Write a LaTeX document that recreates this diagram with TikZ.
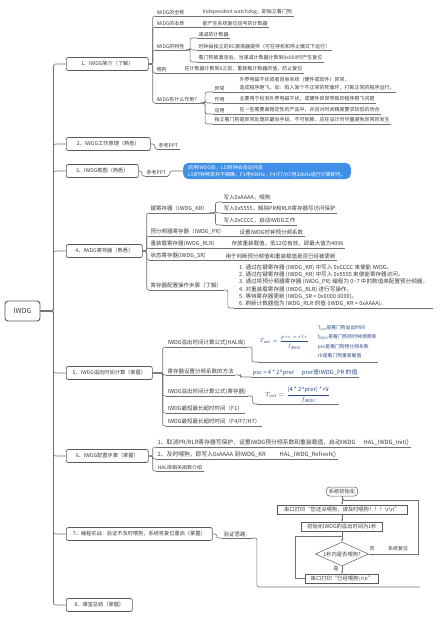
\documentclass[tikz,border=0pt]{standalone}
\usepackage{amsmath}
\usepackage{fontspec}
\setmainfont{Noto Sans CJK SC}
\usetikzlibrary{arrows.meta,shapes.geometric}
\definecolor{linegray}{HTML}{707070}
\definecolor{txtgray}{HTML}{3C3C3C}
\definecolor{boxedge}{HTML}{5A5A5A}
\definecolor{calloutblue}{HTML}{4090EA}
\definecolor{mathblue}{HTML}{2B4A86}

\begin{document}
\begin{tikzpicture}[
    x=1pt, y=-1pt,
    root/.style={draw=boxedge, line width=0.9pt, rounded corners=3pt, fill=white,
      minimum width=35, minimum height=20, font=\fontsize{7}{8}\selectfont, text=txtgray},
    sec/.style={draw=boxedge, line width=0.7pt, rounded corners=2pt, fill=white, anchor=west,
      minimum height=13, inner xsep=4pt, inner ysep=1pt, font=\fontsize{5.2}{6}\selectfont, text=txtgray},
    leaf/.style={anchor=south west, inner xsep=1.5pt, inner ysep=1.3pt, text=txtgray,
      font=\fontsize{5}{6}\selectfont,
      append after command={(\tikzlastnode.south west) edge[uline] (\tikzlastnode.south east)}},
    leafm/.style={leaf, font=\fontsize{5.5}{6.5}\selectfont},
    leafb/.style={leaf, font=\fontsize{5.8}{7}\selectfont},
    uline/.style={draw=linegray, line width=0.5pt},
    conn/.style={draw=linegray, line width=0.6pt, rounded corners=2pt},
    callout/.style={fill=calloutblue, rounded corners=5pt, text=white, anchor=west, align=left,
      inner xsep=5pt, inner ysep=2pt, font=\fontsize{5}{7}\selectfont},
    fbox/.style={draw=boxedge, fill=white, line width=0.5pt, minimum height=9, inner xsep=2pt,
      inner ysep=0.5pt, font=\fontsize{5.3}{6}\selectfont, text=txtgray},
    fdec/.style={fbox, diamond, aspect=2.2, inner sep=0pt, minimum width=53, minimum height=24},
    flbl/.style={font=\fontsize{5}{6}\selectfont, text=txtgray, inner sep=0.5pt},
    farr/.style={-{Stealth[length=2.5pt]}, linegray, line width=0.5pt},
  ]
  \useasboundingbox (0,0) rectangle (440,620);

  % Root and sections
  \node[root] (root) at (22.5,311) {IWDG};
  \node[sec, minimum width=82] (s1) at (66,64) {1、IWDG简介（了解）};
  \node[sec, minimum width=84] (s2) at (66,144) {2、IWDG工作原理（熟悉）};
  \node[sec, minimum width=72] (s3) at (66,171) {3、IWDG框图（熟悉）};
  \node[sec, minimum width=76] (s4) at (66,251) {4、IWDG寄存器（熟悉）};
  \node[sec, minimum width=86] (s5) at (66,373) {5、IWDG溢出时间计算（掌握）};
  \node[sec, minimum width=82] (s6) at (66,456) {6、IWDG配置步骤（掌握）};
  \node[sec, minimum width=146] (s7) at (66,534) {7、编程实战：验证不及时喂狗，系统将复位重启（掌握）};
  \node[sec, minimum width=66] (s8) at (66,605) {8、课堂总结（掌握）};
  \draw[conn] (root.east) -- ++(13,0) |- (s1.west);
  \draw[conn] (root.east) -- ++(13,0) |- (s2.west);
  \draw[conn] (root.east) -- ++(13,0) |- (s3.west);
  \draw[conn] (root.east) -- ++(13,0) |- (s4.west);
  \draw[conn] (root.east) -- ++(13,0) |- (s5.west);
  \draw[conn] (root.east) -- ++(13,0) |- (s6.west);
  \draw[conn] (root.east) -- ++(13,0) |- (s7.west);
  \draw[conn] (root.east) -- ++(13,0) |- (s8.west);

  % 1. Intro
  \node[leaf] (n11) at (155,16) {IWDG的全称};
  \node[leaf] (n11a) at (201,16) {Independent watchdog，即独立看门狗};
  \node[leaf] (n12) at (155,27) {IWDG的本质};
  \node[leaf] (n12a) at (201,27) {能产生系统复位信号的计数器};
  \node[leaf] (n13) at (155,50) {IWDG的特性};
  \node[leaf] (n13a) at (197,38) {递减的计数器};
  \node[leaf] (n13b) at (197,50) {时钟由独立的RC振荡器提供（可在待机和停止模式下运行）};
  \node[leaf] (n13c) at (197,62) {看门狗被激活后，当递减计数器计数到0x000时产生复位};
  \node[leaf] (n14) at (155,73) {喂狗};
  \node[leaf] (n14a) at (183,73) {在计数器计数到0之前，重装载计数器的值，防止复位};
  \node[leaf] (n15) at (155,103) {IWDG有什么作用？};
  \node[leaf] (n15a) at (213,92) {异常};
  \node[leaf, align=left, font=\fontsize{5}{8}\selectfont] (n15a1) at (238,92)
    {外界电磁干扰或者自身系统（硬件或软件）异常，\\造成程序跑飞，如：陷入某个不正常的死循环，打断正常的程序运行。};
  \node[leaf] (n15b) at (213,103) {作用};
  \node[leaf] (n15b1) at (238,103) {主要用于检测外界电磁干扰，或硬件异常导致的程序跑飞问题};
  \node[leaf] (n15c) at (213,114) {应用};
  \node[leaf] (n15c1) at (238,114) {在一些需要高稳定性的产品中，并且对时间精度要求较低的场合};
  \node[leaf] (n15d) at (213,124) {独立看门狗是异常处理的最后手段，不可依赖，应在设计时尽量避免异常的发生};
  \draw[conn] (s1.east) -- ++(4,0) |- (n11.south west);
  \draw[conn] (s1.east) -- ++(4,0) |- (n12.south west);
  \draw[conn] (s1.east) -- ++(4,0) |- (n13.south west);
  \draw[conn] (s1.east) -- ++(4,0) |- (n14.south west);
  \draw[conn] (s1.east) -- ++(4,0) |- (n15.south west);
  \draw[conn] (n11.south east) -- (n11a.south west);
  \draw[conn] (n12.south east) -- (n12a.south west);
  \draw[conn] (n13.south east) -- ++(4,0) |- (n13a.south west);
  \draw[conn] (n13.south east) -- ++(4,0) |- (n13b.south west);
  \draw[conn] (n13.south east) -- ++(4,0) |- (n13c.south west);
  \draw[conn] (n14.south east) -- (n14a.south west);
  \draw[conn] (n15.south east) -- ++(4,0) |- (n15a.south west);
  \draw[conn] (n15.south east) -- ++(4,0) |- (n15b.south west);
  \draw[conn] (n15.south east) -- ++(4,0) |- (n15c.south west);
  \draw[conn] (n15.south east) -- ++(4,0) |- (n15d.south west);
  \draw[conn] (n15a.south east) -- (n15a1.south west);
  \draw[conn] (n15b.south east) -- (n15b1.south west);
  \draw[conn] (n15c.south east) -- (n15c1.south west);

  % 2. and 3.
  \node[leaf] (n21) at (157,149) {参考PPT};
  \draw[conn] (s2.east) -- ++(4,0) |- (n21.south west);
  \node[leaf] (n31) at (145,176) {参考PPT};
  \node[callout] (n32) at (183,171)
    {启用IWDG后，LSI时钟会自动开启\\LSI时钟频率并不精确，F1用40kHz，F4/F7/H7用32kHz进行计算即可。};
  \draw[conn] (s3.east) -- ++(3,0) |- (n31.south west);
  \draw[conn] (n31.south east) -- ++(2,0) |- (n32.west);

  % 4. Registers
  \node[leafm] (n41) at (149,213) {键寄存器（IWDG\_KR）};
  \node[leafm] (n41a) at (222,202) {写入0xAAAA，喂狗};
  \node[leafm] (n41b) at (222,213) {写入0x5555，解除PR和RLR寄存器写访问保护};
  \node[leafm] (n41c) at (222,225) {写入0xCCCC，启动IWDG工作};
  \node[leafm] (n42) at (149,236) {预分频器寄存器（IWDG\_PR）};
  \node[leafm] (n42a) at (238,236) {设置IWDG时钟预分频系数};
  \node[leafm] (n43) at (149,248) {重装载寄存器(IWDG\_RLR)};
  \node[leafm] (n43a) at (230,248) {存放重装载值，低12位有效，即最大值为4096};
  \node[leafm] (n44) at (149,260) {状态寄存器(IWDG\_SR)};
  \node[leafm] (n44a) at (224,260) {用于判断预分频值和重装载值是否已经被更新};
  \node[leafm] (n45) at (149,290) {寄存器配置操作步骤（了解）};
  \node[leafm, align=left, font=\fontsize{5.6}{7.2}\selectfont, inner xsep=5pt] (n45a) at (234,308)
    {1. 通过在键寄存器 (IWDG\_KR) 中写入 0xCCCC 来使能 IWDG。\\
     2. 通过在键寄存器 (IWDG\_KR) 中写入 0x5555 来使能寄存器访问。\\
     3. 通过将预分频器寄存器 (IWDG\_PR) 编程为 0\textasciitilde 7 中的数值来配置预分频器。\\
     4. 对重装载寄存器 (IWDG\_RLR) 进行写操作。\\
     5. 等待寄存器更新 (IWDG\_SR = 0x0000 0000)。\\
     6. 刷新计数器值为 IWDG\_RLR 的值 (IWDG\_KR = 0xAAAA)。};
  \draw[conn] (s4.east) -- ++(4,0) |- (n41.south west);
  \draw[conn] (s4.east) -- ++(4,0) |- (n42.south west);
  \draw[conn] (s4.east) -- ++(4,0) |- (n43.south west);
  \draw[conn] (s4.east) -- ++(4,0) |- (n44.south west);
  \draw[conn] (s4.east) -- ++(4,0) |- (n45.south west);
  \draw[conn] (n41.south east) -- ++(6,0) |- (n41a.south west);
  \draw[conn] (n41.south east) -- ++(6,0) |- (n41b.south west);
  \draw[conn] (n41.south east) -- ++(6,0) |- (n41c.south west);
  \draw[conn] (n42.south east) -- (n42a.south west);
  \draw[conn] (n43.south east) -- (n43a.south west);
  \draw[conn] (n44.south east) -- (n44a.south west);
  \draw[conn] (n45.south east) -- ++(4,0) |- (n45a.south west);

  % 5. Timeout
  \node[leafm] (n51) at (166,347) {IWDG溢出时间计算公式(HAL库)};
  \node[leafm, text=mathblue] (n51a) at (258,362)
    {$T_{\mathrm{out}}=\dfrac{psc*rlr}{f_{\mathrm{IWDG}}}$\hspace{9pt}{\fontsize{4.8}{9.5}\selectfont
     \begin{tabular}[c]{@{}l@{}}
       T$_{\mathrm{out}}$是看门狗溢出时间\\ f$_{\mathrm{IWDG}}$是看门狗的时钟源频率\\ psc是看门狗预分频系数\\ rlr是看门狗重装载值
     \end{tabular}}};
  \node[leafm] (n52) at (166,375) {寄存器设置分频系数的方法};
  \node[leafb, text=mathblue] (n52a) at (251,377) {psc = 4 * 2\textasciicircum prer\hspace{8pt}prer是IWDG\_PR 的值};
  \node[leafm] (n53) at (166,396) {IWDG溢出时间计算公式(寄存器)};
  \node[leafb, text=mathblue, inner xsep=8pt] (n53a) at (257,404)
    {$T_{\mathrm{out}}=\dfrac{\text{(4 * 2\textasciicircum prer) * rlr}}{f_{\mathrm{IWDG}}}$};
  \node[leafm] (n54) at (166,413) {IWDG最短最长超时时间（F1）};
  \node[leafm] (n55) at (166,426) {IWDG最短最长超时时间（F4/F7/H7）};
  \draw[conn] (s5.east) -- ++(10,0) |- (n51.south west);
  \draw[conn] (s5.east) -- ++(10,0) |- (n52.south west);
  \draw[conn] (s5.east) -- ++(10,0) |- (n53.south west);
  \draw[conn] (s5.east) -- ++(10,0) |- (n54.south west);
  \draw[conn] (s5.east) -- ++(10,0) |- (n55.south west);
  \draw[conn] (n51.south east) -- ++(5,0) |- (n51a.south west);
  \draw[conn] (n52.south east) -- ++(5,0) |- (n52a.south west);
  \draw[conn] (n53.south east) -- ++(5,0) |- (n53a.south west);

  % 6. Config steps
  \node[leafb] (n61) at (156,447) {1、取消PR/RLR寄存器写保护，设置IWDG预分频系数和重装载值，启动IWDG};
  \node[leafb] (n61a) at (362,447) {HAL\_IWDG\_Init()};
  \node[leafb] (n62) at (156,459) {2、及时喂狗，即写入0xAAAA 到IWDG\_KR};
  \node[leafb] (n62a) at (278,459) {HAL\_IWDG\_Refresh()};
  \node[leaf] (n63) at (156,471) {HAL库相关函数介绍};
  \draw[conn] (s6.east) -- ++(4,0) |- (n61.south west);
  \draw[conn] (s6.east) -- ++(4,0) |- (n62.south west);
  \draw[conn] (s6.east) -- ++(4,0) |- (n63.south west);
  \draw[conn] (n61.south east) -- (n61a.south west);
  \draw[conn] (n62.south east) -- (n62a.south west);

  % 7. Practice: flow chart
  \node[leafm] (n71) at (222,538) {验证思路：};
  \node[fbox, rounded corners=3pt, minimum width=31] (fc1) at (342,491.5) {系统初始化};
  \node[fbox, minimum width=130] (fc2) at (342,509.5) {串口打印“您还没喂狗，请及时喂狗！！！\textbackslash r\textbackslash n”};
  \node[fbox, minimum width=81] (fc3) at (342,526.5) {初始化IWDG的溢出时间为1秒};
  \node[fdec] (fc4) at (342,554) {1秒内是否喂狗?};
  \node[fbox, minimum width=73] (fc5) at (342,578.5) {串口打印“已经喂狗\textbackslash r\textbackslash n”};
  \node[flbl] (lno) at (372,549) {否};
  \node[flbl] (lrst) at (398,549) {系统复位};
  \node[flbl] (lyes) at (336,569) {是};
  \coordinate (j1) at (342,500);
  \coordinate (j2) at (342,536.5);
  \coordinate (fcend) at (420,587);
  \draw[farr] (fc1.south) -- (fc2.north);
  \draw[farr] (fc2.south) -- (fc3.north);
  \draw[farr] (fc3.south) -- (fc4.north);
  \draw[farr] (fc4.south) -- (fc5.north);
  \draw[farr] (fc4.east) -- ++(49,0) |- (j1);
  \draw[farr] (fc5.west) -- ++(-10,0) |- (j2);
  \draw[conn] (s7.east) -- ++(4,0) |- (n71.south west);
  \draw[conn] (n71.south east) -- ++(4,0) |- (fcend);
\end{tikzpicture}
\end{document}
